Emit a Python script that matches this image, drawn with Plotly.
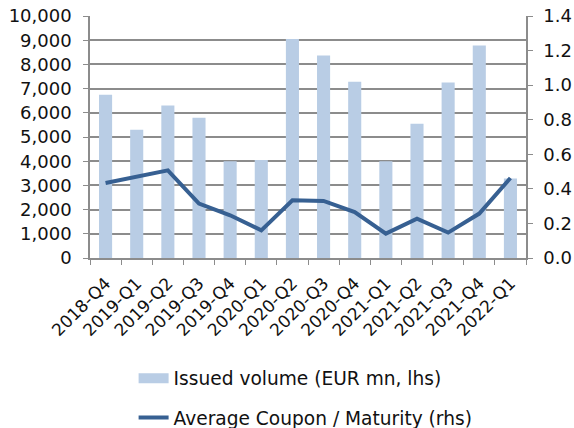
import plotly.graph_objects as go

categories = ["2018-Q4", "2019-Q1", "2019-Q2", "2019-Q3", "2019-Q4", "2020-Q1", "2020-Q2",
              "2020-Q3", "2020-Q4", "2021-Q1", "2021-Q2", "2021-Q3", "2021-Q4", "2022-Q1"]
issued_volume = [6750, 5300, 6300, 5800, 4000, 4050, 9050, 8370, 7280, 4000, 5550, 7250, 8780, 3280]
avg_coupon_maturity = [0.434, 0.47, 0.507, 0.315, 0.247, 0.16, 0.334, 0.33, 0.266, 0.141, 0.228, 0.147, 0.257, 0.463]

FONT = "Verdana, DejaVu Sans, sans-serif"
GRID = "#8c8c8c"
BAR_COLOR = "#B9CDE5"
LINE_COLOR = "#376092"

fig = go.Figure()
fig.add_trace(go.Bar(
    x=categories, y=issued_volume, name="Issued volume (EUR mn, lhs)",
    marker=dict(color=BAR_COLOR, line=dict(width=0)), yaxis="y",
    legendgroup="a", showlegend=False))
# legend-only proxy giving the wide rectangular swatch of the bar series
fig.add_trace(go.Scatter(
    x=[None], y=[None], name="Issued volume (EUR mn, lhs)", mode="lines",
    line=dict(color=BAR_COLOR, width=11), legendgroup="a", showlegend=True,
    hoverinfo="skip"))
fig.add_trace(go.Scatter(
    x=categories, y=avg_coupon_maturity, name="Average Coupon / Maturity (rhs)",
    mode="lines", line=dict(color=LINE_COLOR, width=4), yaxis="y2", legendgroup="b"))

fig.update_layout(
    width=574, height=428,
    margin=dict(l=90, r=48, t=16, b=170, autoexpand=False),
    paper_bgcolor="white", plot_bgcolor="white",
    font=dict(family=FONT, size=18, color="#111111"),
    bargap=0.58,
    showlegend=True,
    legend=dict(orientation="v", x=0.1, xanchor="left", y=-0.42, yanchor="top",
                traceorder="grouped", tracegroupgap=12,
                font=dict(family=FONT, size=18.6, color="#111111")),
    xaxis=dict(type="category", tickangle=-45, tickson="boundaries", ticks="outside",
               ticklen=5, tickcolor=GRID, showline=True, linecolor=GRID, linewidth=1.5,
               showgrid=False, tickfont=dict(size=17), automargin=False,
               ticklabelstandoff=7),
    yaxis=dict(range=[0, 10000], dtick=1000, tickformat=",d", showgrid=True, gridcolor=GRID,
               gridwidth=1.5, showline=True, linecolor=GRID, linewidth=1.5, ticks="outside",
               ticklen=5, tickcolor=GRID, zeroline=False, automargin=False,
               ticklabelstandoff=8),
    yaxis2=dict(range=[0, 1.4], dtick=0.2, tickformat=".1f", overlaying="y", side="right",
                showgrid=False, showline=True, linecolor=GRID, linewidth=1.5, ticks="outside",
                ticklen=5, tickcolor=GRID, zeroline=False, automargin=False,
                ticklabelstandoff=7),
)

fig.write_html("out.html", config={"displayModeBar": False},
               post_script="document.body.style.margin='0px';")
